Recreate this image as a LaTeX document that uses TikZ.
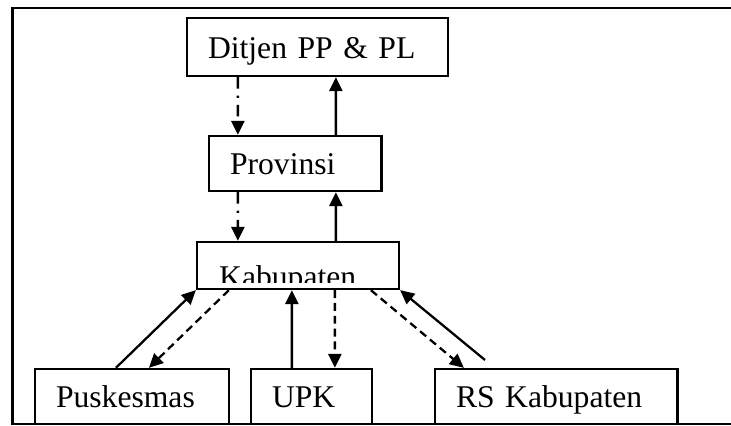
\documentclass[tikz,border=0pt]{standalone}
\usepackage{fontspec}
\setmainfont{Liberation Serif}
\usetikzlibrary{arrows.meta, calc}
\tikzset{
>={Triangle[length=8pt, width=7.5pt]}, % filled arrow heads
unit/.style={draw, line width=1.3pt, inner xsep=0.42cm, inner ysep=0pt, align=left, text height=13pt, text depth=0pt, font=\fontsize{18}{21}\selectfont}, % every office box
report/.style={->, line width=1.3pt}, % solid line going up
feedback/.style={->, line width=1.3pt, dash pattern=on 4.5pt off 2.8pt}, % dashed line going down
guide/.style={->, line width=1.3pt, dash pattern=on 6.5pt off 4pt on 1.3pt off 4pt}, % dash dot line going down
}

\begin{document}
\begin{tikzpicture}[x=0.02cm, y=-0.02cm]
    \useasboundingbox (0,0) rectangle (731,426);
    \draw[line width=1.3pt] (740,8) -- (12.5,8) -- (12.5,424) -- (740,424);
    \node[unit, text width=4.38cm, minimum height=1.16cm] (ditjen) at (317.5,47) {Ditjen PP \& PL};
    \node[unit, text width=2.61cm, minimum height=1.1cm] (prov) at (295.25,163.5) {Provinsi};
    \node[unit, text width=3.2cm, minimum height=0.94cm] (kab) at (298,265.5) {};
    \begin{scope}
        \clip (kab.north west) rectangle ($(kab.south east)+(0,-8)$);
        \node[anchor=base west, inner sep=0pt, font=\fontsize{18}{21}\selectfont] (kabtext) at ($(kab.south west)+(23,-3)$) {Kabupaten};
    \end{scope}
    \node[unit, text width=3.04cm, minimum height=1.1cm] (pusk) at (132,396.5) {Puskesmas};
    \node[unit, text width=1.58cm, minimum height=1.1cm] (upk) at (311.5,396.5) {UPK};
    \node[unit, text width=4.01cm, minimum height=1.1cm] (rs) at (556.25,396.5) {RS Kabupaten};
    \coordinate (rsfree) at (485,360);
    \draw
    ($(ditjen.south west)+(52,0)$) edge[guide] ($(prov.north west)+(30,0)$)
    ($(prov.north west)+(128,0)$) edge[report] ($(ditjen.south west)+(150,0)$)
    ($(prov.south west)+(30,0)$) edge[guide] ($(kab.north west)+(42,0)$)
    ($(kab.north west)+(140,0)$) edge[report] ($(prov.south west)+(128,0)$)
    ($(pusk.north west)+(82,0)$) edge[report] (kab.south west)
    ($(kab.south west)+(33,0)$) edge[feedback] ($(pusk.north west)+(115,0)$)
    ($(upk.north west)+(42,0)$) edge[report] ($(kab.south west)+(96,0)$)
    ($(kab.south west)+(139,0)$) edge[feedback] ($(upk.north west)+(85,0)$)
    ($(kab.south west)+(175,0)$) edge[feedback] ($(rs.north west)+(30,0)$)
    (rsfree) edge[report] (kab.south east);
\end{tikzpicture}
\end{document}
